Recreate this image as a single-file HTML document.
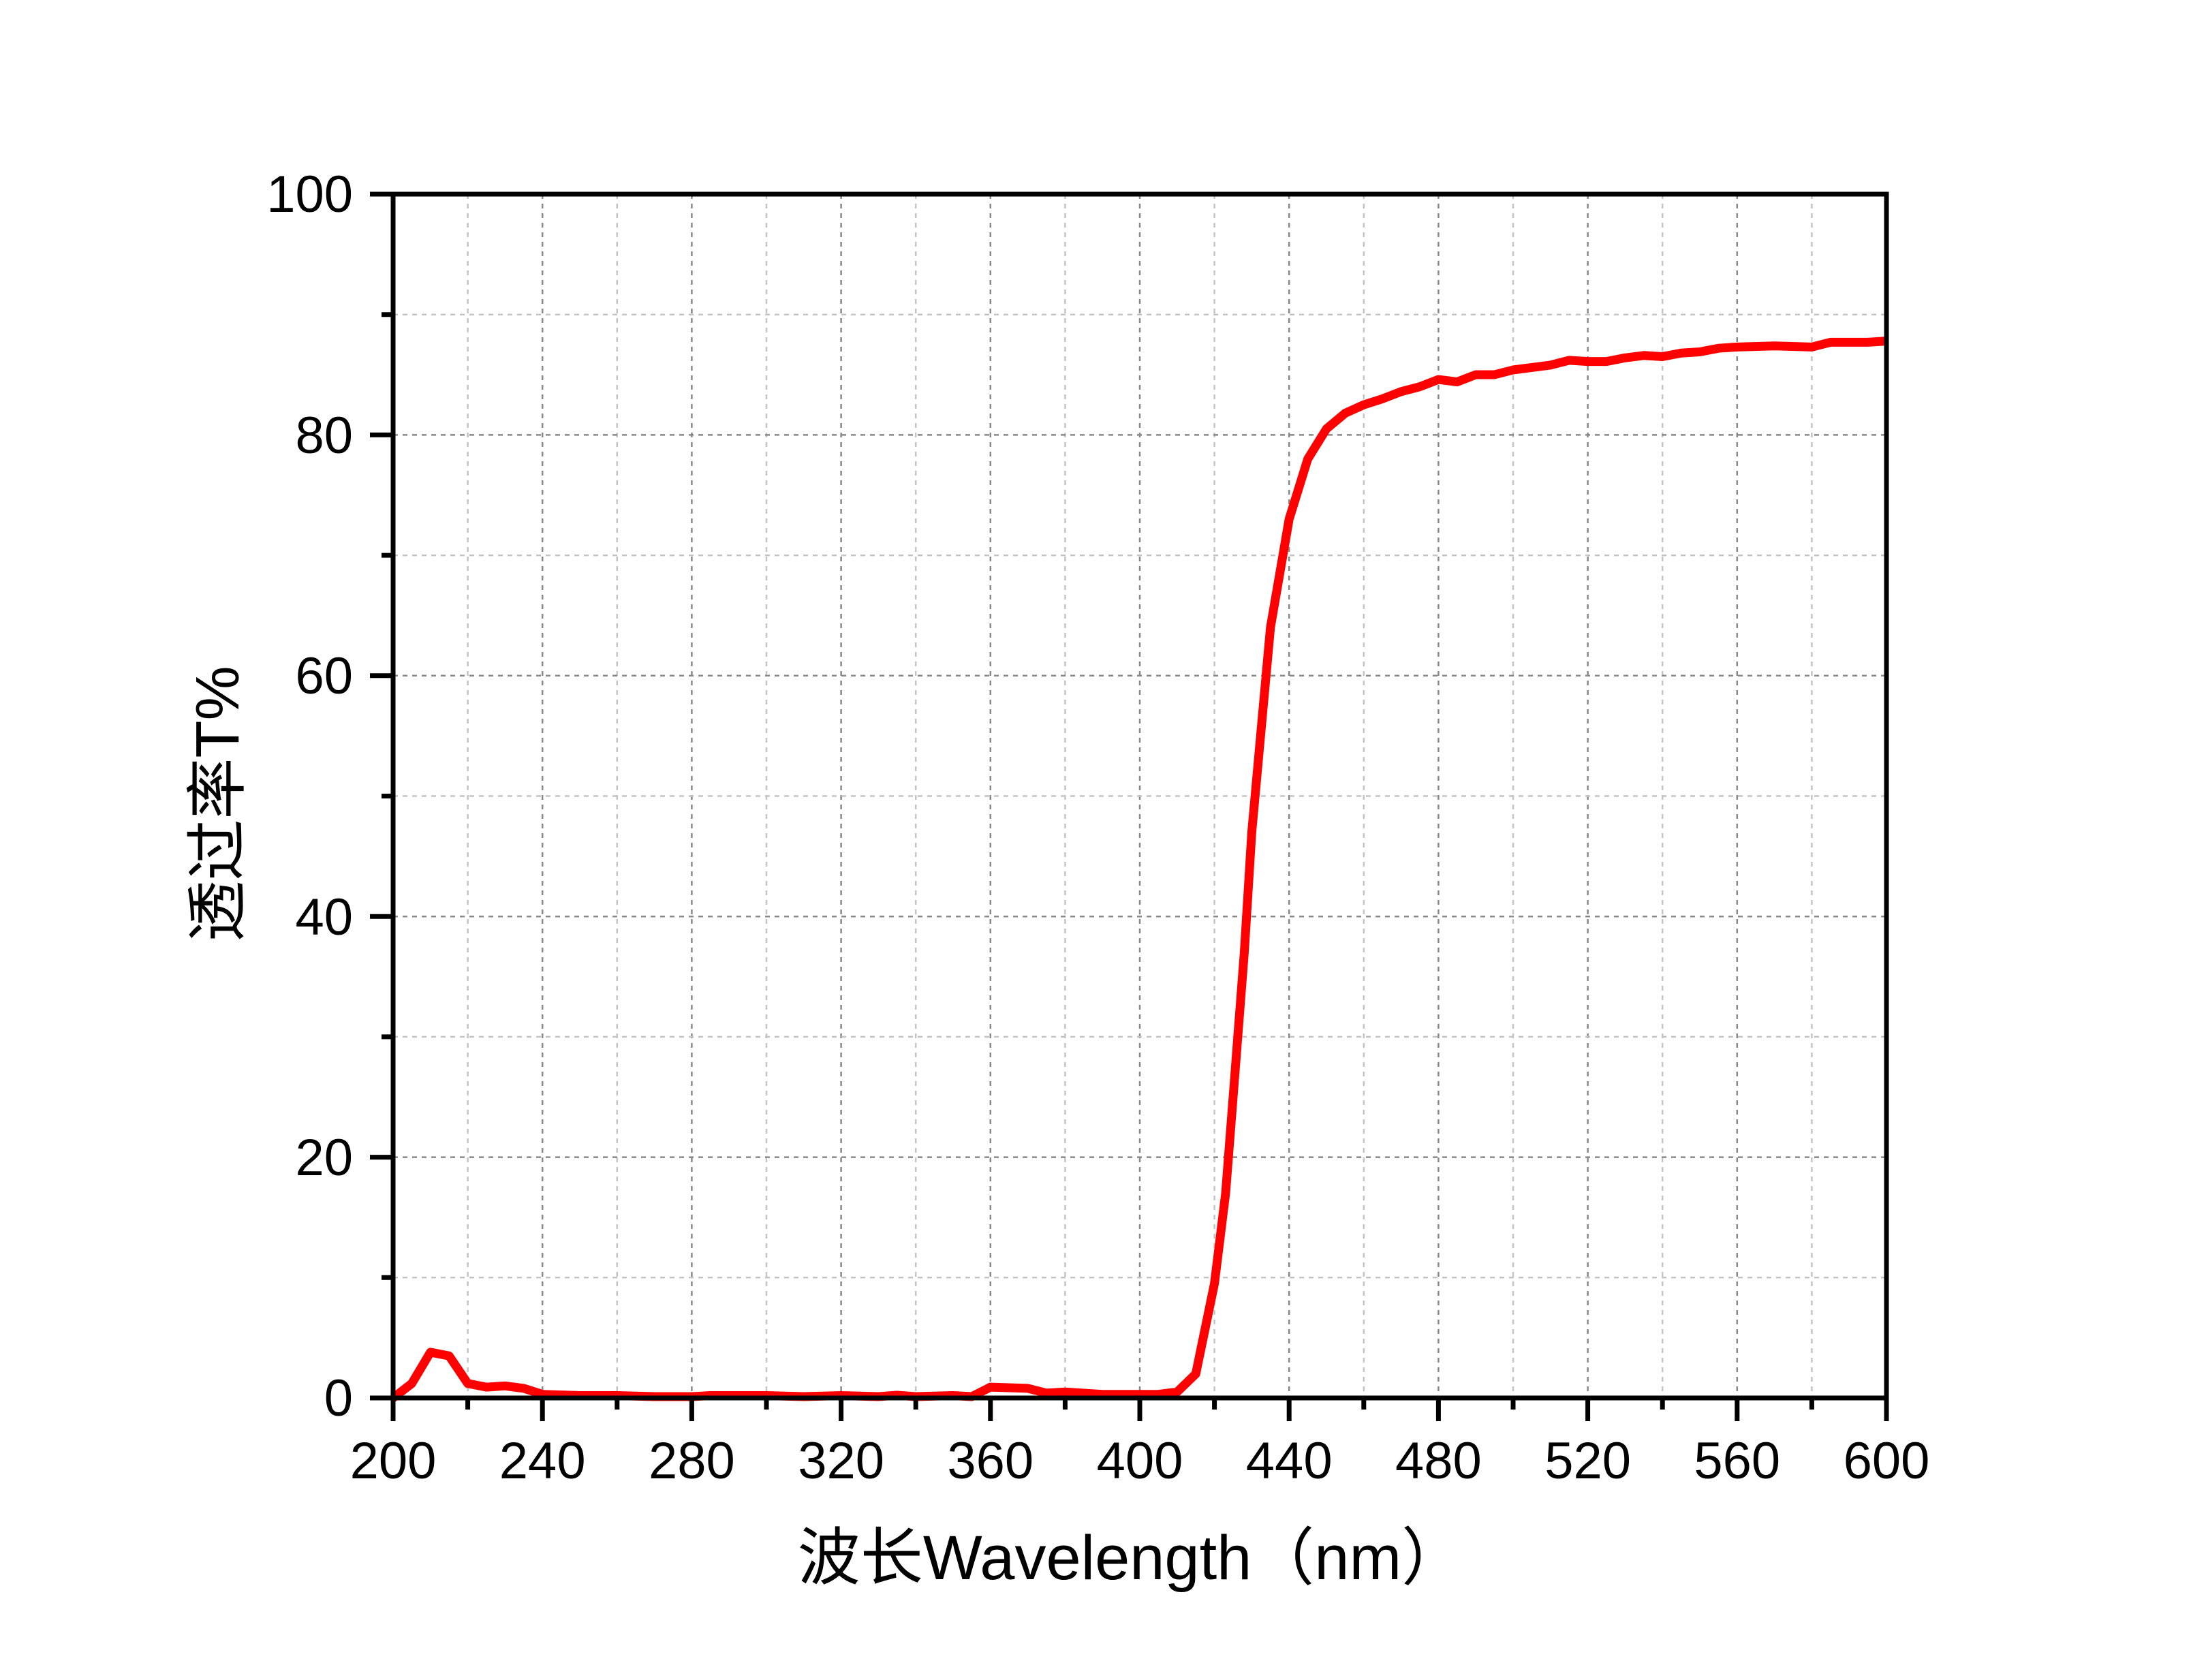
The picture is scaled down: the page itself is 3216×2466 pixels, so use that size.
<!DOCTYPE html>
<html><head><meta charset="utf-8"><style>html,body{margin:0;padding:0;background:#fff}</style></head>
<body>
<svg width="3216" height="2461" xmlns="http://www.w3.org/2000/svg" font-family="Liberation Sans, Arial, sans-serif">
<rect width="3216" height="2461" fill="#fff"/>
<g stroke-width="2.5" stroke-dasharray="7,7">
<line x1="686.6" y1="285" x2="686.6" y2="2052" stroke="#c4c4c4"/>
<line x1="796.2" y1="285" x2="796.2" y2="2052" stroke="#888"/>
<line x1="905.8" y1="285" x2="905.8" y2="2052" stroke="#c4c4c4"/>
<line x1="1015.4" y1="285" x2="1015.4" y2="2052" stroke="#888"/>
<line x1="1125" y1="285" x2="1125" y2="2052" stroke="#c4c4c4"/>
<line x1="1234.6" y1="285" x2="1234.6" y2="2052" stroke="#888"/>
<line x1="1344.2" y1="285" x2="1344.2" y2="2052" stroke="#c4c4c4"/>
<line x1="1453.8" y1="285" x2="1453.8" y2="2052" stroke="#888"/>
<line x1="1563.4" y1="285" x2="1563.4" y2="2052" stroke="#c4c4c4"/>
<line x1="1673" y1="285" x2="1673" y2="2052" stroke="#888"/>
<line x1="1782.6" y1="285" x2="1782.6" y2="2052" stroke="#c4c4c4"/>
<line x1="1892.2" y1="285" x2="1892.2" y2="2052" stroke="#888"/>
<line x1="2001.8" y1="285" x2="2001.8" y2="2052" stroke="#c4c4c4"/>
<line x1="2111.4" y1="285" x2="2111.4" y2="2052" stroke="#888"/>
<line x1="2221" y1="285" x2="2221" y2="2052" stroke="#c4c4c4"/>
<line x1="2330.6" y1="285" x2="2330.6" y2="2052" stroke="#888"/>
<line x1="2440.2" y1="285" x2="2440.2" y2="2052" stroke="#c4c4c4"/>
<line x1="2549.8" y1="285" x2="2549.8" y2="2052" stroke="#888"/>
<line x1="2659.4" y1="285" x2="2659.4" y2="2052" stroke="#c4c4c4"/>
<line x1="577" y1="461.7" x2="2769" y2="461.7" stroke="#c4c4c4"/>
<line x1="577" y1="638.4" x2="2769" y2="638.4" stroke="#888"/>
<line x1="577" y1="815.1" x2="2769" y2="815.1" stroke="#c4c4c4"/>
<line x1="577" y1="991.8" x2="2769" y2="991.8" stroke="#888"/>
<line x1="577" y1="1168.5" x2="2769" y2="1168.5" stroke="#c4c4c4"/>
<line x1="577" y1="1345.2" x2="2769" y2="1345.2" stroke="#888"/>
<line x1="577" y1="1521.9" x2="2769" y2="1521.9" stroke="#c4c4c4"/>
<line x1="577" y1="1698.6" x2="2769" y2="1698.6" stroke="#888"/>
<line x1="577" y1="1875.3" x2="2769" y2="1875.3" stroke="#c4c4c4"/>
</g>
<polyline fill="none" stroke="#ff0000" stroke-width="13" stroke-linejoin="round" points="577,2052 604.4,2030.8 631.8,1984.9 659.2,1990.2 686.6,2030.8 714,2036.1 741.4,2034.3 768.8,2037.9 796.2,2046.7 851,2048.5 905.8,2048.5 960.6,2050 1015.4,2050 1042.8,2048.5 1125,2048.5 1179.8,2050 1234.6,2048.5 1289.4,2050 1316.8,2048 1344.2,2050 1399,2048.5 1426.4,2050 1453.8,2036.1 1508.6,2037.9 1536,2044.9 1563.4,2043.2 1618.2,2046.7 1673,2046.7 1700.4,2046.7 1727.8,2043.2 1755.2,2016.7 1782.6,1884.1 1799,1751.6 1810,1610.3 1826.4,1398.2 1837.4,1221.5 1864.8,921.1 1892.2,762.1 1919.6,673.7 1947,629.5 1974.4,606.6 2001.8,594.2 2029.2,585.4 2056.6,574.8 2084,567.7 2111.4,557.1 2138.8,560.6 2166.2,550 2193.6,550 2221,543 2248.4,539.4 2275.8,535.9 2303.2,528.9 2330.6,530.6 2358,530.6 2385.4,525.3 2412.8,521.8 2440.2,523.5 2467.6,518.2 2495,516.5 2522.4,511.2 2549.8,509.4 2604.6,507.7 2659.4,509.4 2686.8,502.4 2741.6,502.4 2769,500.6"/>
<rect x="577" y="285" width="2192" height="1767" fill="none" stroke="#000" stroke-width="7"/>
<g stroke="#000" stroke-width="7">
<path d="M577,2052v34M796.2,2052v34M1015.4,2052v34M1234.6,2052v34M1453.8,2052v34M1673,2052v34M1892.2,2052v34M2111.4,2052v34M2330.6,2052v34M2549.8,2052v34M2769,2052v34"/>
<path d="M686.6,2052v17M905.8,2052v17M1125,2052v17M1344.2,2052v17M1563.4,2052v17M1782.6,2052v17M2001.8,2052v17M2221,2052v17M2440.2,2052v17M2659.4,2052v17"/>
<path d="M577,2052h-34M577,1698.6h-34M577,1345.2h-34M577,991.8h-34M577,638.4h-34M577,285h-34"/>
<path d="M577,1875.3h-17M577,1521.9h-17M577,1168.5h-17M577,815.1h-17M577,461.7h-17"/>
</g>
<g font-size="76" fill="#000" text-anchor="middle">
<text x="577" y="2170">200</text><text x="796.2" y="2170">240</text><text x="1015.4" y="2170">280</text><text x="1234.6" y="2170">320</text><text x="1453.8" y="2170">360</text><text x="1673" y="2170">400</text><text x="1892.2" y="2170">440</text><text x="2111.4" y="2170">480</text><text x="2330.6" y="2170">520</text><text x="2549.8" y="2170">560</text><text x="2769" y="2170">600</text>
</g>
<g font-size="76" fill="#000" text-anchor="end">
<text x="518" y="2078">0</text><text x="518" y="1725">20</text><text x="518" y="1372">40</text><text x="518" y="1018">60</text><text x="518" y="665">80</text><text x="518" y="311">100</text>
</g>
<text x="1660" y="2318" font-size="92" text-anchor="middle" font-family="Liberation Sans, Noto Sans CJK SC, sans-serif">波长Wavelength（nm）</text>
<text transform="translate(350,1180) rotate(-90)" font-size="90" text-anchor="middle" font-family="Liberation Sans, Noto Sans CJK SC, sans-serif">透过率T%</text>
</svg>
</body></html>
